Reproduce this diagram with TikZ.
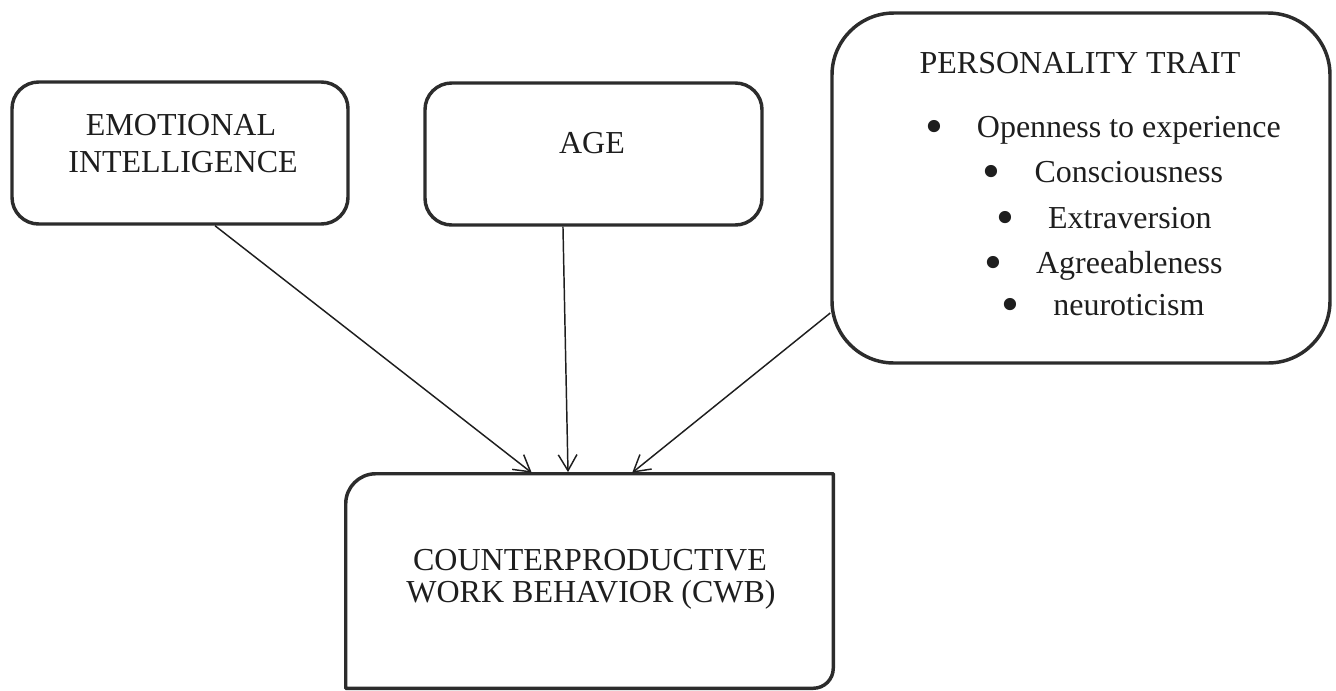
\documentclass[tikz,border=0pt]{standalone}
\usepackage{fontspec}
\setmainfont{Liberation Serif}
\usetikzlibrary{arrows.meta,calc}
\definecolor{ink}{HTML}{1E1E1E}
\definecolor{edge}{HTML}{2C2C2C}
\newcommand{\bigbul}{\raisebox{-4.5pt}{\scalebox{1.6}{\textbullet}}\hspace{25.3pt}}
\begin{document}
\begin{tikzpicture}[x=0.75pt,y=-0.75pt,
  boxline/.style={draw=edge, line width=2.6pt, line join=round},
  box/.style={boxline, inner sep=0pt},
  shell/.style={inner sep=0pt},
  lbl/.style={font=\fontsize{24}{28}\selectfont, text=ink, inner sep=0pt, anchor=base},
  conn/.style={draw=ink, line width=1.1pt, shorten >=1.2pt,
    -{Straight Barb[length=12pt,width=14pt,line width=1.1pt]}}]
\useasboundingbox (0,0) rectangle (1336,690);

% boxes
\node[box, rounded corners=20pt, minimum width=252pt, minimum height=106.5pt] (ei) at (180,153) {};
\node[box, rounded corners=20pt, minimum width=252.75pt, minimum height=106.5pt] (age) at (593.5,154) {};
\node[box, rounded corners=46.5pt, minimum width=373.5pt, minimum height=262.5pt] (pt) at (1081,188) {};
\node[shell, minimum width=365.25pt, minimum height=160.5pt] (cwb) at (589.5,581) {};
\draw[boxline] (cwb.south west) -- ([yshift=-22.5pt]cwb.north west)
  arc[start angle=180,end angle=90,radius=22.5pt] -- (cwb.north east)
  -- ([yshift=15pt]cwb.south east) arc[start angle=0,end angle=-90,radius=15pt] -- cycle;

% texts
\node[lbl] (ei1) at (181,135) {EMOTIONAL};
\node[lbl] (ei2) at (183,172) {INTELLIGENCE};
\node[lbl] (agel) at (592,153) {AGE};
\node[lbl] (ptt) at (1080,73) {PERSONALITY TRAIT};
\node[lbl] (pt1) at (1103,137) {\bigbul Openness to experience};
\node[lbl] (pt2) at (1103,182) {\bigbul Consciousness};
\node[lbl] (pt3) at (1104,228) {\bigbul Extraversion};
\node[lbl] (pt4) at (1103.5,273) {\bigbul Agreeableness};
\node[lbl] (pt5) at (1103,315) {\bigbul neuroticism};
\node[lbl] (cwb1) at (590,570) {COUNTERPRODUCTIVE};
\node[lbl] (cwb2) at (591,602) {WORK BEHAVIOR (CWB)};

% connectors
\draw[conn] ([xshift=26.25pt]ei.south) -- ([xshift=-42.4pt]cwb.north);
\draw[conn] ([xshift=-22.9pt]age.south) -- ([xshift=-16.1pt]cwb.north);
\draw[conn] ([yshift=-93.75pt]pt.west) -- ([xshift=31.1pt]cwb.north);
\end{tikzpicture}
\end{document}
